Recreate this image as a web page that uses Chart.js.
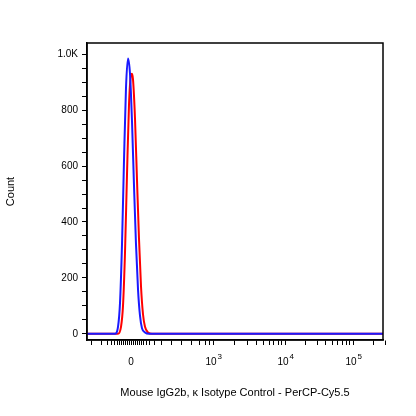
<!DOCTYPE html>
<html><head><meta charset="utf-8">
<script src="https://cdn.jsdelivr.net/npm/chart.js@4"></script>
<style>html,body{margin:0;background:#fff}#c{width:416px;height:416px}</style>
</head><body><div id="c"><canvas id="cv"></canvas></div>
<script>
// x in display units, 0 at the zero channel
const blueX = [-44, -16, -13, -11, -9, -7, -5, -3, -1, 1, 3, 5, 7, 9, 11, 14, 18, 252];
const blueY = [0, 0, 25, 110, 320, 620, 880, 985, 930, 760, 530, 320, 160, 65, 20, 5, 0, 0];
const redX = [-44, -13, -10, -8, -6, -4, -2, 0, 1, 2, 4, 6, 8, 10, 12, 14, 17, 21, 252];
const redY = [0, 0, 25, 100, 290, 570, 820, 925, 930, 910, 770, 550, 340, 170, 70, 25, 5, 0, 0];
const xTickPos = [0, 82, 154, 222];
const xTickBase = ["0", "10", "10", "10"];
const xTickExp = ["", "3", "4", "5"];
const yTicks = [0, 200, 400, 600, 800, 1000];
const yTickLabels = ["0", "200", "400", "600", "800", "1.0K"];

const FAM = "Liberation Sans, Arial, sans-serif";
const font = {family: FAM, size: 10};
const pts = (xs, ys) => xs.map((x, i) => ({x: x, y: ys[i]}));

// minor tick positions (decade subdivisions + linear region)
const minor = [-40, -30, -24, -20, -17, -14, -12, -10, -8, -6, -4, -2, 2, 4, 6, 8, 10, 12, 15, 18, 23, 30, 40, 50, 60, 68, 74, 78];
[[82, 72], [154, 68]].forEach(([s, w]) => { for (let k = 2; k <= 9; k++) minor.push(s + Math.log10(k) * w); });
for (let k = 2; k <= 3; k++) minor.push(222 + Math.log10(k) * 68);

const frame = {
  id: 'frame',
  afterDraw(chart) {
    const {ctx, chartArea: a, scales} = chart;
    ctx.save();
    ctx.strokeStyle = '#000'; ctx.lineWidth = 1.5;
    ctx.strokeRect(a.left, a.top, a.right - a.left, a.bottom - a.top);
    ctx.fillStyle = '#000'; ctx.textAlign = 'left'; ctx.textBaseline = 'alphabetic';
    xTickPos.forEach((v, i) => {
      const x = scales.x.getPixelForValue(v);
      ctx.font = '10px ' + FAM;
      const w = ctx.measureText(xTickBase[i]).width;
      const y = a.bottom + 25;
      ctx.fillText(xTickBase[i], x - w / 2 - (xTickExp[i] ? 2 : 0), y);
      if (xTickExp[i]) { ctx.font = '8px ' + FAM; ctx.fillText(xTickExp[i], x + w / 2 - 1, y - 6); }
    });
    ctx.restore();
  }
};

new Chart(document.getElementById('cv'), {
  type: 'line',
  data: {datasets: [
    {data: pts(blueX, blueY), borderColor: '#1a1aff', borderWidth: 2, pointRadius: 0, cubicInterpolationMode: 'monotone', fill: false},
    {data: pts(redX, redY), borderColor: '#ff0000', borderWidth: 2, pointRadius: 0, cubicInterpolationMode: 'monotone', fill: false}
  ]},
  options: {
    animation: {duration: 0},
    responsive: true,
    maintainAspectRatio: false,
    layout: {padding: {left: 0, right: 33, top: 43, bottom: 12}},
    plugins: {legend: {display: false}, tooltip: {enabled: false}},
    scales: {
      x: {
        type: 'linear', min: -44, max: 252,
        border: {color: '#000', width: 1.5},
        grid: {display: true, drawOnChartArea: false, color: '#000', tickLength: 5},
        afterBuildTicks: s => { s.ticks = xTickPos.concat(minor).map(v => ({value: v})); },
        ticks: {color: '#000', font: font, maxRotation: 0, autoSkip: false, padding: 8, callback: () => ''},
        title: {display: true, text: 'Mouse IgG2b, κ Isotype Control - PerCP-Cy5.5', color: '#000', font: {family: FAM, size: 11}, padding: {top: 10}},
        afterFit: s => { s.height = 64; }
      },
      y: {
        type: 'linear', min: -22, max: 1040,
        border: {color: '#000', width: 1.5},
        grid: {display: true, drawOnChartArea: false, color: '#000', tickLength: 5},
        afterBuildTicks: s => { const t = []; for (let v = 0; v <= 1000; v += 50) t.push({value: v}); s.ticks = t; },
        ticks: {color: '#000', font: font, autoSkip: false, padding: 4,
          callback: v => { const i = yTicks.indexOf(v); return i >= 0 ? yTickLabels[i] : ''; }},
        title: {display: true, text: 'Count', color: '#000', font: {family: FAM, size: 11}, padding: {bottom: 14}},
        afterFit: s => { s.width = 87; }
      }
    }
  },
  plugins: [frame]
});
</script></body></html>
